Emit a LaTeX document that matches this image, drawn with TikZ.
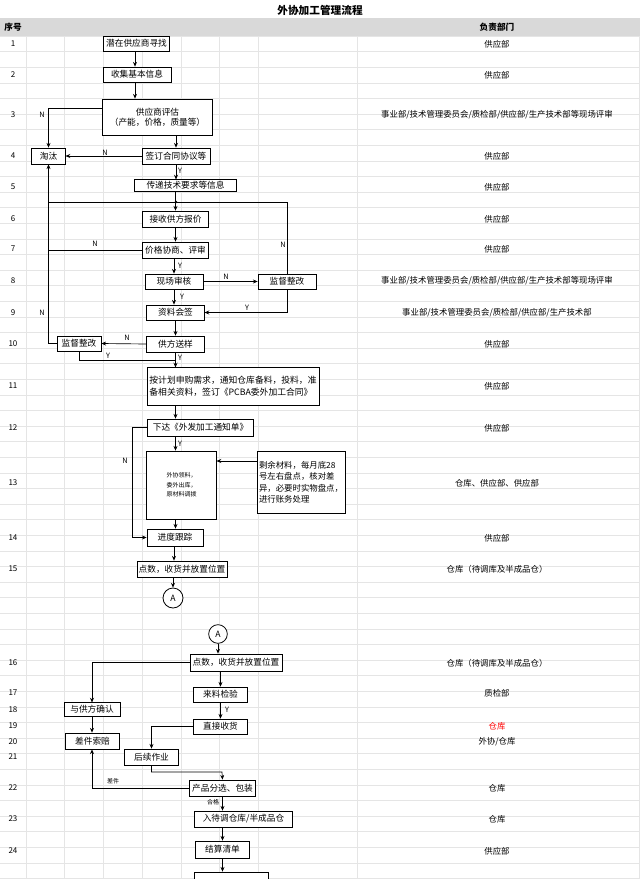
\documentclass[tikz,border=0pt]{standalone}
\usepackage{fontspec}
\setmainfont{Noto Sans CJK SC}
\usetikzlibrary{arrows.meta}
\begin{document}
\begin{tikzpicture}[x=0.75pt,y=-0.75pt,
  bx/.style={draw,fill=white,line width=0.6pt,inner sep=0pt,font=\fontsize{6.5}{7.5}\selectfont},
  arr/.style={line width=0.5pt,-{Stealth[length=3.5pt,width=3pt]}},
  ln/.style={line width=0.5pt},
  lab/.style={font=\fontsize{5.5}{6}\selectfont,inner sep=0pt},
  rn/.style={font=\fontsize{6}{7}\selectfont,inner sep=0pt},
  dep/.style={font=\fontsize{6.3}{7}\selectfont,inner sep=0pt}]
\useasboundingbox (0,0) rectangle (640,879);
\clip (0,0) rectangle (640,879);
\fill[white] (0,0) rectangle (640,879);
\fill[gray!30] (0,18) rectangle (640,36);
\foreach \k in {0,...,54} \draw[gray!20,line width=0.4pt] (0,36+15.6*\k) -- (640,36+15.6*\k);
\foreach \x in {26,64,103,142,181,219,258,357,639} \draw[gray!20,line width=0.4pt] (\x,36) -- (\x,879);
\node[font=\bfseries\fontsize{8}{9}\selectfont] (title) at (320,10) {外协加工管理流程};
\node[font=\bfseries\fontsize{6.5}{7}\selectfont] (hno) at (13,27) {序号};
\node[font=\bfseries\fontsize{6.5}{7}\selectfont] (hdep) at (497,27) {负责部门};
\foreach \n/\y in {1/44,2/75,3/115,4/156,5/187,6/219,7/249,8/281,9/313,10/344,11/386,12/428,13/483,14/538,15/569,16/663,17/693,18/710,19/726,20/742,21/757,22/788,23/819,24/851}
  \node[rn] (r\n) at (13,\y) {\n};
\node[dep] (d1) at (497,44) {供应部};
\node[dep] (d2) at (497,75) {供应部};
\node[dep] (d3) at (497,115) {事业部/技术管理委员会/质检部/供应部/生产技术部等现场评审};
\node[dep] (d4) at (497,156) {供应部};
\node[dep] (d5) at (497,187) {供应部};
\node[dep] (d6) at (497,219) {供应部};
\node[dep] (d7) at (497,249) {供应部};
\node[dep] (d8) at (497,281) {事业部/技术管理委员会/质检部/供应部/生产技术部等现场评审};
\node[dep] (d9) at (497,313) {事业部/技术管理委员会/质检部/供应部/生产技术部};
\node[dep] (d10) at (497,344) {供应部};
\node[dep] (d11) at (497,386) {供应部};
\node[dep] (d12) at (497,428) {供应部};
\node[dep] (d13) at (497,483) {仓库、供应部、供应部};
\node[dep] (d14) at (497,538) {供应部};
\node[dep] (d15) at (497,569) {仓库（待调库及半成品仓）};
\node[dep] (d16) at (497,663) {仓库（待调库及半成品仓）};
\node[dep] (d17) at (497,693) {质检部};
\node[dep,text=red] (d19) at (497,726) {仓库};
\node[dep] (d20) at (497,742) {外协/仓库};
\node[dep] (d22) at (497,788) {仓库};
\node[dep] (d23) at (497,819) {仓库};
\node[dep] (d24) at (497,851) {供应部};
% boxes
\node[bx,minimum width=50pt,minimum height=11.25pt] (b1) at (136.5,43.5) {潜在供应商寻找};
\node[bx,minimum width=51pt,minimum height=11.25pt] (b2) at (137,74.5) {收集基本信息};
\node[bx,minimum width=83pt,minimum height=27pt,align=center] (b3) at (157.5,117) {供应商评估\\（产能，价格，质量等）};
\node[bx,minimum width=25pt,minimum height=12pt] (b4) at (48.5,156) {淘汰};
\node[bx,minimum width=51pt,minimum height=12pt] (b5) at (176,156) {签订合同协议等};
\node[bx,minimum width=77pt,minimum height=8.5pt] (b6) at (185.5,185.5) {传递技术要求等信息};
\node[bx,minimum width=50pt,minimum height=12pt] (b7) at (175.5,219) {接收供方报价};
\node[bx,minimum width=50pt,minimum height=12pt] (b8) at (175.5,250) {价格协商、评审};
\node[bx,minimum width=43.5pt,minimum height=11.25pt] (b9) at (174,281.5) {现场审核};
\node[bx,minimum width=43.5pt,minimum height=11.25pt] (b10) at (287,281.5) {监督整改};
\node[bx,minimum width=43pt,minimum height=11.25pt] (b11) at (175.5,312.5) {资料会签};
\node[bx,minimum width=43pt,minimum height=12pt] (b12) at (175.5,344) {供方送样};
\node[bx,minimum width=33pt,minimum height=11.25pt] (b13) at (79,343.5) {监督整改};
\node[bx,minimum width=129pt,minimum height=28pt,align=left,font=\fontsize{6.6}{9}\selectfont] (b14) at (233,386.5) {按计划申购需求，通知仓库备料，投料，准\\备相关资料，签订《PCBA委外加工合同》};
\node[bx,minimum width=80pt,minimum height=12.75pt] (b15) at (200.5,427.5) {下达《外发加工通知单》};
\node[bx,minimum width=52pt,minimum height=51pt,align=left,font=\fontsize{4.5}{7}\selectfont] (b16) at (181.5,485) {外协领料，\\委外出库，\\原材料调拨};
\node[bx,minimum width=66pt,minimum height=47pt,align=left,font=\fontsize{6.3}{8.6}\selectfont] (b17) at (301,482.5) {剩余材料，每月底28\\号左右盘点，核对差\\异，必要时实物盘点，\\进行账务处理};
\node[bx,minimum width=42pt,minimum height=12.75pt] (b18) at (175,537.5) {进度跟踪};
\node[bx,minimum width=67.5pt,minimum height=12pt] (b19) at (182,569) {点数，收货并放置位置};
\node[draw,circle,fill=white,line width=0.6pt,minimum size=15pt,inner sep=0pt,font=\fontsize{6.5}{7}\selectfont] (A) at (173,598) {A};
\node[draw,circle,fill=white,line width=0.6pt,minimum size=14pt,inner sep=0pt,font=\fontsize{6.5}{7}\selectfont] (A2) at (218,634) {A};
\node[bx,minimum width=69pt,minimum height=12.75pt] (b20) at (236,662.5) {点数，收货并放置位置};
\node[bx,minimum width=41pt,minimum height=11.25pt] (b21) at (220.5,694.5) {来料检验};
\node[bx,minimum width=42pt,minimum height=10pt] (b22) at (92,709.5) {与供方确认};
\node[bx,minimum width=41pt,minimum height=11.25pt] (b23) at (220.5,726.5) {直接收货};
\node[bx,minimum width=41pt,minimum height=12pt] (b24) at (92.5,741) {差件索赔};
\node[bx,minimum width=41pt,minimum height=12pt] (b25) at (151.5,757) {后续作业};
\node[bx,minimum width=50pt,minimum height=12pt] (b26) at (222.5,788) {产品分选、包装};
\node[bx,minimum width=73pt,minimum height=12pt] (b27) at (243.5,819) {入待调仓库/半成品仓};
\node[bx,minimum width=41pt,minimum height=12.75pt] (b28) at (222.5,849.5) {结算清单};
\node[bx,minimum width=55pt,minimum height=13.5pt] (b29) at (231.5,881) {};
% connectors
\draw[arr] (b1.south -| 135,0) -- (b2.north -| 135,0);
\draw[arr] (b2.south -| 135,0) -- (b3.north -| 135,0);
\draw[arr] (b3.south -| b5.north) -- (b5.north);
\draw[arr] (b3.west |- 0,108) -| (b4.north);
\node[lab] (n1) at (42,115) {N};
\draw[arr] (b5.west) -- (b4.east);
\node[lab] (n2) at (105,153) {N};
\draw[arr] (b5.south) -- (b6.north -| b5.south);
\node[lab] (y1) at (180,171) {Y};
\coordinate (j1) at (176,202);
\draw[arr] (b6.south -| b7.north) -- (b7.north);
\fill (j1) circle (1pt);
\draw[ln] (48,202) -- (b10.north |- j1) -- (b10.north);
\node[lab] (n3) at (283,245) {N};
\draw[arr] (b7.south) -- (b8.north);
\draw[ln] (b8.west) -- (b8.west -| b4.south);
\node[lab] (n4) at (95,244) {N};
\draw[arr] (b13.west) -| (b4.south);
\node[lab] (n5) at (42,313) {N};
\draw[arr] (b8.south -| b9.north) -- (b9.north);
\node[lab] (y2) at (180,266) {Y};
\draw[arr] (b9.east) -- (b10.west);
\node[lab] (n6) at (226,277) {N};
\draw[arr] (b9.south) -- (b11.north -| b9.south);
\node[lab] (y3) at (182,297) {Y};
\draw[arr] (b10.south) |- (b11.east);
\node[lab] (y4) at (247,308) {Y};
\draw[arr] (b11.south) -- (b12.north);
\draw[arr] (b12.west) -- (b13.east);
\node[lab] (n7) at (127,338) {N};
\draw[ln] (b13.south) |- (176,360);
\node[lab] (y5) at (108,356) {Y};
\draw[arr] (b12.south) -- (b14.north -| b12.south);
\node[lab] (y6) at (180,358) {Y};
\draw[arr] (b14.south -| b12.south) -- (b15.north -| b12.south);
\draw[arr] (b15.south -| b12.south) -- (b16.north -| b12.south);
\node[lab] (y7) at (180,444) {Y};
\draw[arr] (b15.west) -- (132,427.5) |- (b18.west);
\node[lab] (n8) at (125,461) {N};
\draw[arr] (b17.west |- 0,461) -- (b16.east |- 0,461);
\draw[arr] (b16.south -| b12.south) -- (b18.north -| b12.south);
\draw[arr] (b18.south -| 174,0) -- (b19.north -| 174,0);
\draw[arr] (b19.south -| A.north) -- (A.north);
\draw[arr] (A2.south) -- (b20.north -| A2.south);
\draw[arr] (b20.west) -| (b22.north);
\draw[arr] (b20.south -| b21.north) -- (b21.north);
\draw[arr] (b21.south) -- (b23.north);
\node[lab] (y8) at (227,710) {Y};
\draw[arr] (b22.south) -- (b24.north -| b22.south);
\draw[arr] (b23.west) -| (b25.north);
\draw[arr] (b25.south) |- (222,772) -- (b26.north);
\draw[arr] (b26.west) -| (b24.south -| b22.south);
\node[lab,font=\fontsize{4.5}{5}\selectfont] (l1) at (113,781) {差件};
\draw[arr] (b26.south) -- (b27.north -| b26.south);
\node[lab,font=\fontsize{4.5}{5}\selectfont] (l2) at (213,802) {合格};
\draw[arr] (b27.south -| b28.north) -- (b28.north);
\draw[arr] (b28.south) -- (b29.north -| b28.south);
\end{tikzpicture}
\end{document}
